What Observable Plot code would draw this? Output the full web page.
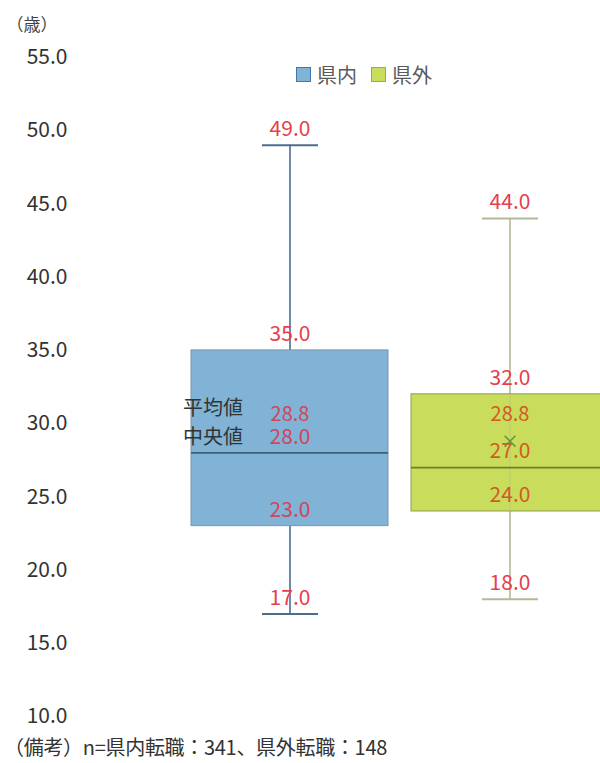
<!DOCTYPE html>
<html><head><meta charset="utf-8">
<script src="https://cdn.jsdelivr.net/npm/d3@7"></script>
<script src="https://cdn.jsdelivr.net/npm/@observablehq/plot@0.6"></script>
<style>
body{margin:0;background:#fff;font-family:"Noto Sans CJK JP","Noto Sans",sans-serif;}
#wrap{position:relative;width:600px;height:763px;overflow:hidden;}
#legend{position:absolute;top:60px;left:296px;display:flex;align-items:center;font-size:20px;color:#5a5a5a;}
#legend .sw{width:15px;height:15px;display:inline-block;margin-right:6px;box-sizing:border-box;}
#legend .it{display:flex;align-items:center;margin-right:14px;}
#foot{position:absolute;top:732px;left:4px;font-size:20px;color:#333;white-space:nowrap;letter-spacing:-0.3px;}
</style></head>
<body><div id="wrap"><div id="chart"></div>
<div id="legend"></div><div id="foot"></div></div>
<script>
const categories = ["県内", "県外"];
const maxV = [49.0, 44.0];
const q3V = [35.0, 32.0];
const meanV = [28.8, 28.8];
const medianV = [28.0, 27.0];
const q1V = [23.0, 24.0];
const minV = [17.0, 18.0];
const counts = [341, 148];
const yTicks = [10, 15, 20, 25, 30, 35, 40, 45, 50, 55];
const unitLabel = "（歳）";

const fills = ["#80b3d6", "#c9dc5c"];
const strokes = ["#7d95a8", "#8d9d4e"];
const whiskerCol = ["#4c6d8c", "#b2b996"];
const medianCol = ["#3e6079", "#6e8026"];
const innerLabelCol = ["#d2455a", "#d35a24"];

const rows = categories.map((c, i) => ({
  cat: c, max: maxV[i], q3: q3V[i], mean: meanV[i], median: medianV[i],
  q1: q1V[i], min: minV[i], fill: fills[i], stroke: strokes[i],
  wc: whiskerCol[i], mc: medianCol[i], lc: innerLabelCol[i]
}));
const fmt = d3.format(".1f");
const font = "'Noto Sans CJK JP','Noto Sans',sans-serif";

const outerLabels = rows.flatMap(r => [
  {cat: r.cat, v: r.max}, {cat: r.cat, v: r.q3}, {cat: r.cat, v: r.min}
]);
const innerLabels = rows.flatMap(r => [
  {cat: r.cat, v: r.median, c: r.lc}, {cat: r.cat, v: r.q1, c: r.lc}
]);

const chart = Plot.plot({
  width: 600, height: 730,
  marginTop: 57, marginBottom: 14, marginLeft: 70, marginRight: 0,
  style: {fontFamily: font, background: "transparent"},
  x: {domain: categories, range: [190, 609], paddingInner: 0.104, paddingOuter: 0, axis: null},
  y: {domain: [10, 55], ticks: yTicks, tickFormat: d => fmt(d), label: null},
  marks: [
    Plot.axisY({ticks: yTicks, tickFormat: d => fmt(d), tickSize: 0, tickPadding: 3, fontSize: 21, color: "#333", label: null}),
    Plot.text([unitLabel], {frameAnchor: "top-left", dx: -64, dy: -39, text: d => d, textAnchor: "start", fontSize: 17, fill: "#444"}),
    // whiskers
    Plot.ruleX(rows, {x: "cat", y1: "min", y2: "q1", stroke: "wc", strokeWidth: 1.6}),
    Plot.ruleX(rows, {x: "cat", y1: "q3", y2: "max", stroke: "wc", strokeWidth: 1.6}),
    Plot.tickY(rows, {x: "cat", y: "max", stroke: "wc", strokeWidth: 2, insetLeft: 71, insetRight: 70}),
    Plot.tickY(rows, {x: "cat", y: "min", stroke: "wc", strokeWidth: 2, insetLeft: 71, insetRight: 70}),
    // box
    Plot.rectY(rows, {x: "cat", y1: "q1", y2: "q3", fill: "fill", stroke: "stroke", strokeWidth: 1}),
    Plot.ruleX(rows.filter(r => r.cat === "県外"), {x: "cat", y1: "q1", y2: "q3", stroke: "wc", strokeWidth: 1, strokeOpacity: 0.5}),
    Plot.tickY(rows, {x: "cat", y: "median", stroke: "mc", strokeWidth: 1.8}),
    Plot.dot(rows.filter(r => r.cat === "県外"), {x: "cat", y: "mean", symbol: "times", r: 5, stroke: "#5f9a3a", strokeWidth: 1.5}),
    // labels
    Plot.text(outerLabels, {x: "cat", y: "v", text: d => fmt(d.v), dy: -16, fill: "#e5404c", fontSize: 21}),
    Plot.text(innerLabels, {x: "cat", y: "v", text: d => fmt(d.v), dy: -16, fill: "c", fontSize: 21}),
    Plot.text(rows, {x: "cat", y: "mean", text: d => fmt(d.mean), dy: -27, fill: "lc", fontSize: 20}),
    Plot.text(rows.filter(r => r.cat === "県内"), {x: "cat", y: "mean", text: () => "平均値", dx: -47, dy: -33, textAnchor: "end", fill: "#333", fontSize: 20}),
    Plot.text(rows.filter(r => r.cat === "県内"), {x: "cat", y: "median", text: () => "中央値", dx: -47, dy: -15, textAnchor: "end", fill: "#333", fontSize: 20})
  ]
});
document.getElementById("chart").appendChild(chart);

const lg = document.getElementById("legend");
categories.forEach((c, i) => {
  const it = document.createElement("span"); it.className = "it";
  const sw = document.createElement("span"); sw.className = "sw";
  sw.style.background = fills[i]; sw.style.border = "1.5px solid " + (i === 0 ? "#3f78a8" : "#9aae3c");
  it.appendChild(sw); it.appendChild(document.createTextNode(c)); lg.appendChild(it);
});
document.getElementById("foot").textContent =
  `（備考）n=${categories[0]}転職：${counts[0]}、${categories[1]}転職：${counts[1]}`;
</script></body></html>
